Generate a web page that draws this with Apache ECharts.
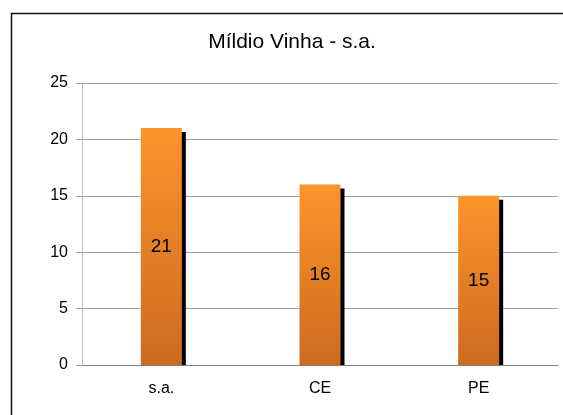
<!DOCTYPE html>
<html>
<head>
<meta charset="utf-8">
<script src="https://cdn.jsdelivr.net/npm/echarts@6/dist/echarts.min.js"></script>
<style>
  html, body { margin: 0; padding: 0; background: #fff; }
  #main { width: 563px; height: 415px; }
</style>
</head>
<body>
<div id="main"></div>
<script>
var titleText = 'Míldio Vinha - s.a.';
var categories = ['s.a.', 'CE', 'PE'];
var values = [21, 16, 15];

var chart = echarts.init(document.getElementById('main'));
var font = 'Liberation Sans, Arial, sans-serif';
var barW = 41;

// sombra preta à direita da barra, presa à linha de base
function renderShadow(params, api) {
    var top = api.coord([api.value(0), api.value(1)]);
    var base = api.coord([api.value(0), 0]);
    return {
        type: 'rect',
        shape: { x: top[0] + barW / 2 - 1, y: top[1] + 4, width: 5, height: base[1] - top[1] - 4 },
        style: { fill: '#000' }
    };
}

var option = {
    animation: false,
    title: {
        text: titleText,
        left: 287,
        textAlign: 'center',
        top: 27,
        textStyle: { fontFamily: font, fontSize: 21, fontWeight: 'normal', color: '#000' }
    },
    graphic: [{
        type: 'rect',
        shape: { x: 11.5, y: 13.5, width: 600, height: 450 },
        style: { fill: null, stroke: '#111', lineWidth: 1.5 },
        silent: true
    }],
    grid: { left: 82, right: 5, top: 83, bottom: 50 },
    xAxis: {
        type: 'category',
        data: categories,
        axisLine: { lineStyle: { color: '#808080', width: 1 } },
        axisTick: { show: false },
        axisLabel: { fontFamily: font, fontSize: 16, color: '#000', margin: 16 }
    },
    yAxis: {
        type: 'value',
        min: 0,
        max: 25,
        interval: 5,
        axisLine: { show: true, lineStyle: { color: '#c0c0c0' } },
        axisTick: { show: true, length: 6, lineStyle: { color: '#a0a0a0' } },
        axisLabel: { fontFamily: font, fontSize: 16, color: '#000', margin: 14 },
        splitLine: { lineStyle: { color: '#a0a0a0' } }
    },
    series: [{
        type: 'custom',
        renderItem: renderShadow,
        data: values.map(function (v, i) { return [i, v]; }),
        z: 1,
        silent: true
    }, {
        type: 'bar',
        data: values,
        barWidth: barW,
        z: 2,
        itemStyle: {
            color: new echarts.graphic.LinearGradient(0, 0, 0, 1, [
                { offset: 0, color: '#fd942c' },
                { offset: 1, color: '#cd6a1f' }
            ])
        },
        label: {
            show: true,
            position: 'inside',
            fontFamily: font,
            fontSize: 19,
            color: '#000'
        }
    }]
};
chart.setOption(option);
</script>
</body>
</html>
